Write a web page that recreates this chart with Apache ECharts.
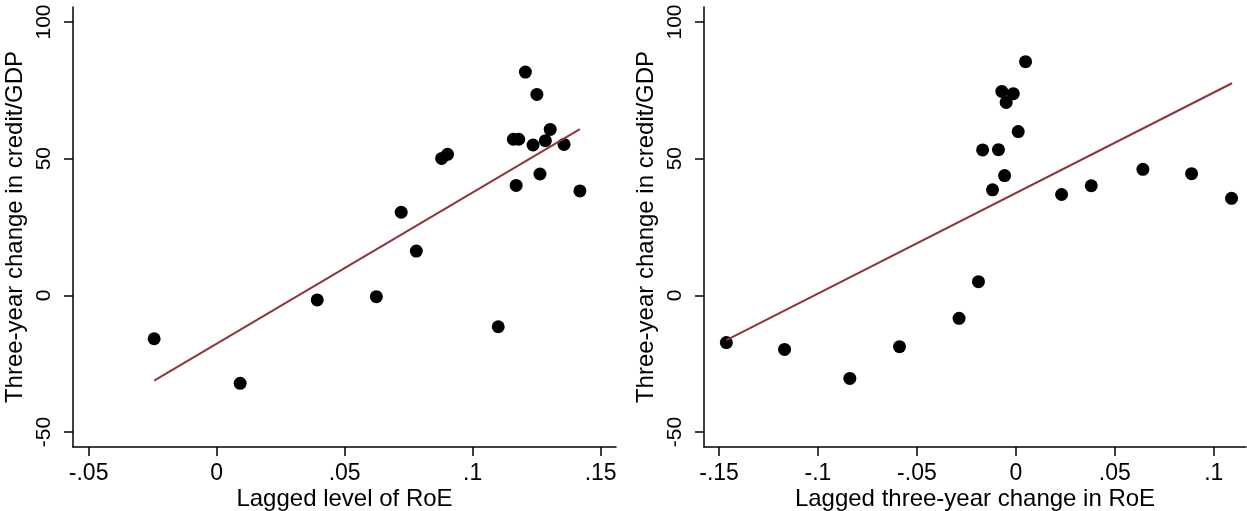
<!DOCTYPE html>
<html>
<head>
<meta charset="utf-8">
<script src="https://cdn.jsdelivr.net/npm/echarts@6/dist/echarts.min.js"></script>
<style>
  html, body { margin: 0; padding: 0; background: #fff; }
  #chart { width: 1247px; height: 511px; }
</style>
</head>
<body>
<div id="chart"></div>
<script>
// left panel: lagged level of RoE
const leftX = [-0.0244, 0.0092, 0.0393, 0.0624, 0.0721, 0.078, 0.0879, 0.0902, 0.110, 0.1159,
  0.118, 0.117, 0.1206, 0.1236, 0.1251, 0.1263, 0.1284, 0.1303, 0.1357, 0.1419]
const leftY = [-15.9, -32.2, -1.7, -0.5, 30.4, 16.2, 50.1, 51.6, -11.5, 57.1,
  57.1, 40.2, 81.7, 55.0, 73.5, 44.4, 56.6, 60.7, 55.2, 38.2]
const leftFitX = [-0.0244, 0.1419]
const leftFitY = [-31.2, 60.8]

// right panel: lagged three-year change in RoE
const rightX = [-0.1463, -0.1169, -0.0839, -0.0588, -0.0287, -0.0189, -0.0168, -0.0118, -0.0088, -0.0071,
  -0.0057, -0.0049, -0.0013, 0.0012, 0.0049, 0.0231, 0.0381, 0.0642, 0.0888, 0.109]
const rightY = [-17.3, -19.8, -30.4, -18.8, -8.4, 5.0, 53.2, 38.6, 53.3, 74.6,
  43.8, 70.6, 73.8, 59.9, 85.5, 36.9, 40.1, 46.1, 44.5, 35.5]
const rightFitX = [-0.1463, 0.1092]
const rightFitY = [-16.4, 77.6]

const yTicks = [-50, 0, 50, 100]
const xTicksLeft = [-0.05, 0, 0.05, 0.1, 0.15]
const xTicksRight = [-0.15, -0.1, -0.05, 0, 0.05, 0.1]

const font = 'Liberation Sans, Arial, sans-serif'
const fitColor = '#90353B'

const fmt = v => (v === 0 ? '0' : String(v).replace('0.', '.'))
const pairs = (xs, ys) => xs.map((x, i) => [x, ys[i]])

const xAxisFor = (idx, min, max, ticks, title) => ({
  type: 'value', gridIndex: idx, min: min, max: max,
  name: title, nameLocation: 'middle', nameGap: 40, nameMoveOverlap: false,
  nameTextStyle: { fontFamily: font, fontSize: 24, color: '#000' },
  axisLine: { show: true, onZero: false, lineStyle: { color: '#000', width: 1.5 } },
  axisTick: { show: true, length: 9, customValues: ticks, lineStyle: { color: '#000', width: 1.5 } },
  axisLabel: { customValues: ticks, formatter: fmt, margin: 15, fontFamily: font, fontSize: 23, color: '#000' },
  splitLine: { show: false }
})

const yAxisFor = idx => ({
  type: 'value', gridIndex: idx, min: -55.5, max: 105.5,
  name: 'Three-year change in credit/GDP', nameLocation: 'middle', nameGap: 46, nameMoveOverlap: false,
  nameTextStyle: { fontFamily: font, fontSize: 24, color: '#000' },
  axisLine: { show: true, onZero: false, lineStyle: { color: '#000', width: 1.5 } },
  axisTick: { show: true, length: 9, customValues: yTicks, lineStyle: { color: '#000', width: 1.5 } },
  axisLabel: { customValues: yTicks, rotate: 90, margin: 18, fontFamily: font, fontSize: 21, color: '#000' },
  splitLine: { show: false }
})

const chart = echarts.init(document.getElementById('chart'))
chart.setOption({
  animation: false,
  backgroundColor: '#fff',
  grid: [
    { left: 73, top: 7, width: 543, height: 440, outerBoundsMode: 'none', containLabel: false },
    { left: 704, top: 7, width: 542, height: 440, outerBoundsMode: 'none', containLabel: false }
  ],
  xAxis: [
    xAxisFor(0, -0.0561, 0.156, xTicksLeft, 'Lagged level of RoE'),
    xAxisFor(1, -0.1576, 0.1163, xTicksRight, 'Lagged three-year change in RoE')
  ],
  yAxis: [yAxisFor(0), yAxisFor(1)],
  series: [
    { type: 'scatter', xAxisIndex: 0, yAxisIndex: 0, symbolSize: 13,
      itemStyle: { color: '#000', opacity: 1 }, data: pairs(leftX, leftY) },
    { type: 'line', xAxisIndex: 0, yAxisIndex: 0, showSymbol: false, z: 3,
      lineStyle: { color: fitColor, width: 2 }, data: pairs(leftFitX, leftFitY) },
    { type: 'scatter', xAxisIndex: 1, yAxisIndex: 1, symbolSize: 13,
      itemStyle: { color: '#000', opacity: 1 }, data: pairs(rightX, rightY) },
    { type: 'line', xAxisIndex: 1, yAxisIndex: 1, showSymbol: false, z: 3,
      lineStyle: { color: fitColor, width: 2 }, data: pairs(rightFitX, rightFitY) }
  ]
})
</script>
</body>
</html>
